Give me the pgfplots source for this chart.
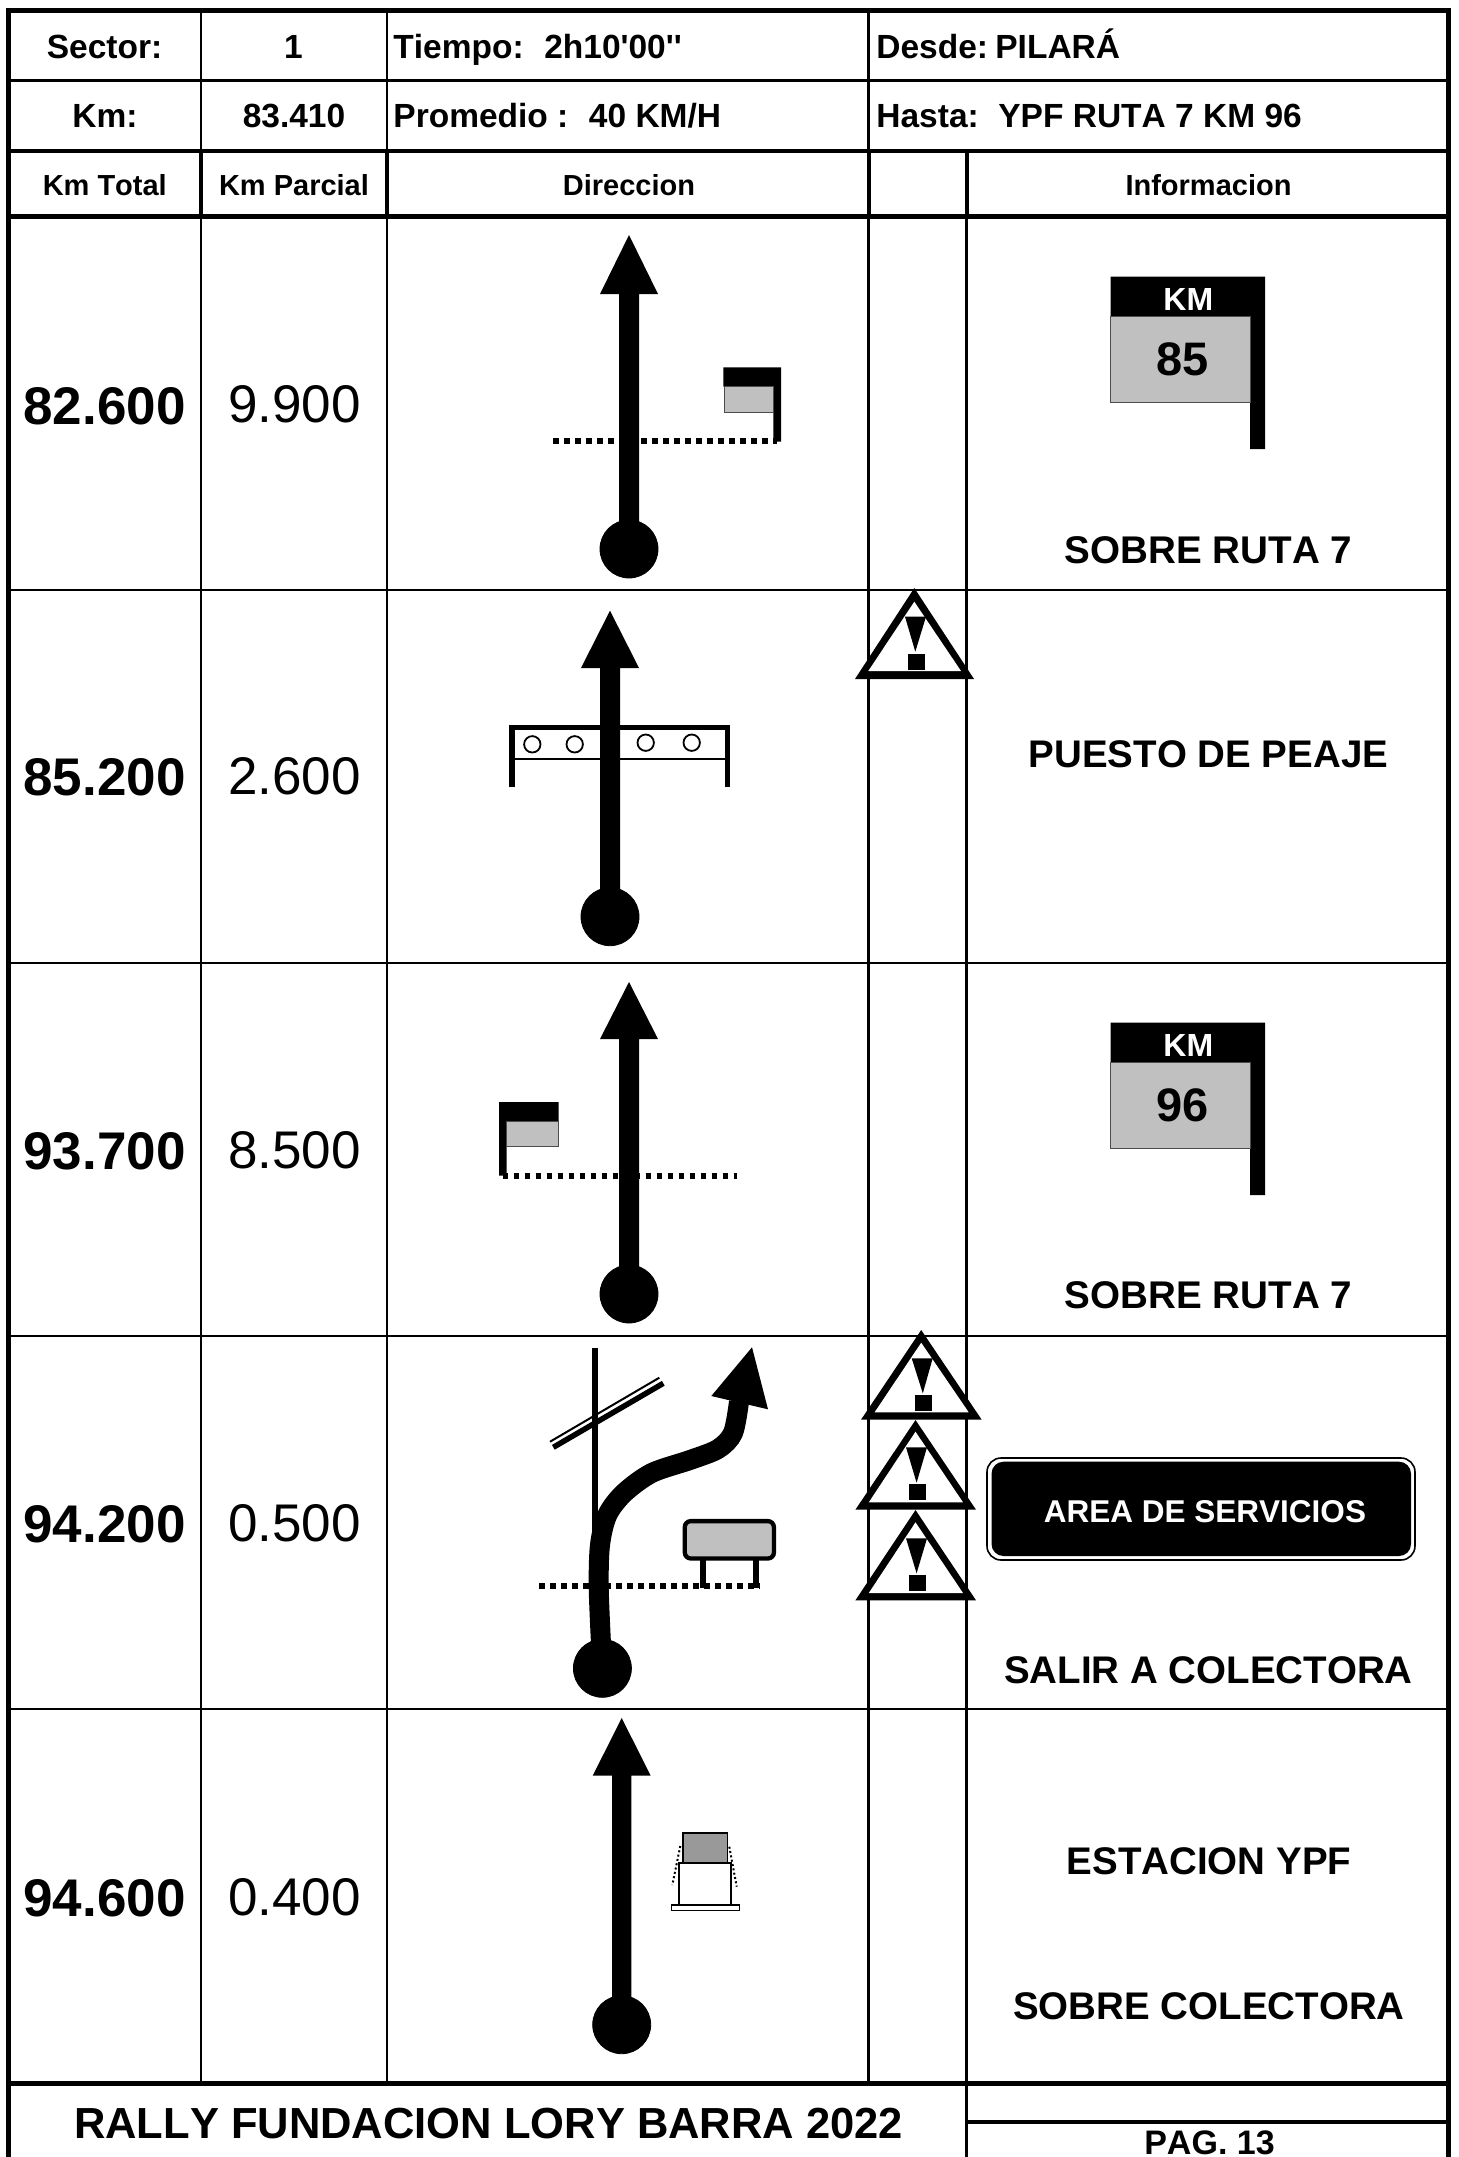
\documentclass[border=0pt]{standalone}
\usepackage{fontspec}
\usepackage{pgfplots}
\pgfplotsset{compat=1.18}
\newfontfamily\hv[Kerning=Off]{Liberation Sans}
\definecolor{sg}{HTML}{C0C0C0}
\definecolor{sd}{HTML}{999999}
% line: width in px, coordinates
\newcommand{\LN}[2]{\addplot[black,line width={#1*0.5pt}] coordinates {#2};}
\newcommand{\DT}[2]{\addplot[black,line width=3pt,dash pattern=on 2.75pt off 2.75pt] coordinates {(#1) (#2)};}
\newcommand{\FL}[2]{\addplot[fill=#1,draw=none] coordinates {#2} --cycle;}
\newcommand{\DOT}[2]{\addplot[only marks,mark=*,mark size=14.5pt,mark options={fill=black,draw=none}] coordinates {(#1,#2)};}
% text: x, y centre, size in px, weight, text
\newcommand{\CT}[5]{\node[anchor=center,inner sep=0pt,text height={#3*0.358pt},text depth=0pt,font=\hv\fontsize{\fpeval{#3*0.5}}{\fpeval{#3*0.6}}\selectfont #4] at (axis cs:#1,#2) {#5};}
\newcommand{\LT}[5]{\node[anchor=west,inner sep=0pt,text height={#3*0.358pt},text depth=0pt,font=\hv\fontsize{\fpeval{#3*0.5}}{\fpeval{#3*0.6}}\selectfont #4] at (axis cs:#1,#2) {#5};}
\begin{document}
\begin{tikzpicture}
\begin{axis}[hide axis,scale only axis,width=729pt,height=1078.5pt,
  xmin=0,xmax=1458,ymin=0,ymax=2157,y dir=reverse,clip=true]
\FL{white}{(0,0) (1458,0) (1458,2157) (0,2157)}
% grid
\LN{2.2}{(201,10) (201,2083)}
\LN{2.4}{(386.8,10) (386.8,2083)}
\LN{2.7}{(868.3,10) (868.3,2083)}
\LN{2.8}{(966.8,150) (966.8,2157)}
\LN{4}{(200.7,150) (200.7,216)}
\LN{4}{(387,150) (387,216)}
\LN{4}{(869,150) (869,216)}
\LN{4}{(967,150) (967,216)}
\LN{2.7}{(8,590) (1448,590)}
\LN{2.7}{(8,963) (1448,963)}
\LN{2.7}{(8,1336) (1448,1336)}
\LN{2.7}{(8,1709) (1448,1709)}
\LN{2.8}{(8,80.7) (1448,80.7)}
\LN{4}{(8,150.7) (1448,150.7)}
\LN{4.7}{(8,216.7) (1448,216.7)}
\LN{5}{(8,2083) (1448,2083)}
\LN{4}{(966.5,2122) (1448,2122)}
\LN{4.7}{(8.3,8) (8.3,2157)}
\LN{5}{(1448.5,8) (1448.5,2157)}
\LN{4.7}{(6,10.3) (1451,10.3)}
% header text
\CT{104.5}{46.3}{33.5}{\bfseries}{Sector:}
\CT{293.5}{46.3}{33.5}{\bfseries}{1}
\LT{393}{46.3}{33.5}{\bfseries}{Tiempo:\ \ \kern1pt 2h10'00''}
\LT{876}{46.3}{33.5}{\bfseries}{Desde:\kern-1pt\ PILARÁ}
\CT{105}{116}{33.5}{\bfseries}{Km:}
\CT{294}{116}{33.5}{\bfseries}{83.410}
\LT{393}{116}{33.5}{\bfseries}{Promedio :\ \ \kern1pt 40 KM/H}
\LT{876}{116}{33.5}{\bfseries}{Hasta:\ \ \kern0.5pt YPF RUTA 7 KM 96}
\CT{104.8}{185}{29}{\bfseries}{Km Total}
\CT{294}{185}{29}{\bfseries}{Km Parcial}
\CT{629}{185}{29}{\bfseries}{Direccion}
\CT{1208.5}{185}{29}{\bfseries}{Informacion}
% km columns
\CT{104.5}{406}{53}{\bfseries}{82.600}
\CT{104.5}{777}{53}{\bfseries}{85.200}
\CT{104.5}{1151}{53}{\bfseries}{93.700}
\CT{104.5}{1524}{53}{\bfseries}{94.200}
\CT{104.5}{1898}{53}{\bfseries}{94.600}
\CT{294.5}{404}{53}{}{9.900}
\CT{294.5}{776}{53}{}{2.600}
\CT{294.5}{1150}{53}{}{8.500}
\CT{294.5}{1523}{53}{}{0.500}
\CT{294.5}{1897}{53}{}{0.400}
% row 1
\DT{553,441.3}{777,441.3}
\FL{black}{(723.3,367.3) (781,367.3) (781,441.7) (773.3,441.7) (773.3,386.7) (723.3,386.7)}
\addplot[fill=sg,draw=black!70,line width=0.5pt] coordinates {(724,386.7) (773.3,386.7) (773.3,412.3) (724,412.3)} --cycle;
\FL{black}{(629,235) (658,294) (639,294) (639,549) (619,549) (619,294) (600,294)}
\DOT{629}{549}
\FL{black}{(1110.7,276.7) (1265,276.7) (1265,449) (1250,449) (1250,316) (1110.7,316)}
\addplot[fill=sg,draw=black!70,line width=0.5pt] coordinates {(1110.7,316) (1250,316) (1250,402.3) (1110.7,402.3)} --cycle;
\CT{1188.3}{299}{32}{\bfseries\color{white}}{KM}
\CT{1182.7}{358.3}{47}{\bfseries}{85}
\CT{1208.5}{549.5}{38.6}{\bfseries}{SOBRE RUTA 7}
% row 2
\LN{5}{(509.3,727.5) (730,727.5)}
\LN{5.3}{(512,725) (512,786.7)}
\LN{5.3}{(727.3,725) (727.3,786.7)}
\LN{2}{(512,759) (727,759)}
\addplot[only marks,mark=o,mark size=4.1pt,mark options={draw=black,line width=0.9pt}] coordinates {(532.3,744.3) (574.7,744.3) (645.7,742.7) (691.7,742.7)};
\FL{black}{(610,610.7) (639,668) (620,668) (620,916.7) (600,916.7) (600,668) (581,668)}
\DOT{610}{916.7}
\CT{1208.5}{754}{38.5}{\bfseries}{PUESTO DE PEAJE}
\FL{black}{(914.3,588) (974,679) (855,679)}
\FL{white}{(914.3,601.7) (961,671) (868.3,671)}
\FL{black}{(905,616.7) (926,616.7) (915.3,651.7)}
\FL{black}{(908,653.7) (925,653.7) (925,670) (908,670)}
% row 3
\DT{502.7,1175.7}{736.7,1175.7}
\FL{black}{(499,1102) (558.7,1102) (558.7,1121) (506.7,1121) (506.7,1175.7) (499,1175.7)}
\addplot[fill=sg,draw=black!70,line width=0.5pt] coordinates {(506.7,1121) (558.7,1121) (558.7,1146.7) (506.7,1146.7)} --cycle;
\FL{black}{(629,982) (658,1039) (639,1039) (639,1294) (619,1294) (619,1039) (600,1039)}
\DOT{629}{1294}
\FL{black}{(1110.7,1022.7) (1265,1022.7) (1265,1195) (1250,1195) (1250,1062) (1110.7,1062)}
\addplot[fill=sg,draw=black!70,line width=0.5pt] coordinates {(1110.7,1062) (1250,1062) (1250,1148.3) (1110.7,1148.3)} --cycle;
\CT{1188.3}{1045}{32}{\bfseries\color{white}}{KM}
\CT{1182.7}{1104.3}{47}{\bfseries}{96}
\CT{1208.5}{1294.5}{38.6}{\bfseries}{SOBRE RUTA 7}
% row 4
\DT{539.3,1585.7}{760,1585.7}
\LN{2}{(550,1441.7) (659.3,1377.7)}
\LN{5.5}{(553.3,1447.3) (663.3,1383.3)}
\LN{5.6}{(595,1348) (595,1533)}
\addplot[black,line width=10pt,smooth] coordinates {(600.9,1641.7) (598.7,1586.7) (600,1545) (607.3,1515) (624,1493) (651.7,1473) (690,1460) (718,1449) (733,1433) (739,1401.7)};
\FL{black}{(752,1347.3) (768,1409.3) (711.3,1396)}
\DOT{602.4}{1668.3}
\LN{5.7}{(702.8,1558) (702.8,1588.3)}
\LN{5.7}{(756,1558) (756,1588.3)}
\addplot[fill=sg,draw=black,line width=2.15pt,rounded corners=3pt] coordinates {(684.8,1521.1) (773.9,1521.1) (773.9,1558.5) (684.8,1558.5)} --cycle;
\FL{black}{(921.2,1330) (981.7,1419.7) (861,1419.7)}
\FL{white}{(921.2,1342.7) (968.7,1412.3) (874.6,1412.3)}
\FL{black}{(911.7,1358.3) (932.7,1358.3) (922.8,1393.3)}
\FL{black}{(914.7,1395) (932,1395) (932,1411) (914.7,1411)}
\FL{black}{(915.5,1420) (976,1509.7) (855.4,1509.7)}
\FL{white}{(915.5,1431.7) (963,1502.3) (868.8,1502.3)}
\FL{black}{(906,1447.3) (927,1447.3) (916.6,1482.7)}
\FL{black}{(909,1484.3) (926.2,1484.3) (926.2,1500.3) (909,1500.3)}
\FL{black}{(915.5,1510) (976,1600.3) (855.4,1600.3)}
\FL{white}{(915.5,1522.3) (963,1593) (868.8,1593)}
\FL{black}{(906,1538.3) (927,1538.3) (916.6,1573.3)}
\FL{black}{(909,1575.3) (926.2,1575.3) (926.2,1591.3) (909,1591.3)}
\addplot[fill=white,draw=black,line width=0.8pt,rounded corners=7pt] coordinates {(987,1458) (1415,1458) (1415,1560) (987,1560)} --cycle;
\addplot[fill=black,draw=none,rounded corners=6pt] coordinates {(991.5,1461.7) (1411,1461.7) (1411,1556) (991.5,1556)} --cycle;
\CT{1205}{1511}{31.5}{\bfseries\color{white}}{AREA DE SERVICIOS}
\CT{1208.5}{1669.3}{38.5}{\bfseries}{SALIR A COLECTORA}
% row 5
\FL{black}{(621.7,1718) (650.7,1775.7) (631.3,1775.7) (631.3,2024.7) (612,2024.7) (612,1775.7) (592.7,1775.7)}
\DOT{621.7}{2024.7}
\addplot[fill=sd,draw=black,line width=0.7pt] coordinates {(683,1833) (727.7,1833) (727.7,1863.3) (683,1863.3)} --cycle;
\addplot[fill=white,draw=black,line width=1pt] coordinates {(679.3,1863.3) (731,1863.3) (731,1905) (679.3,1905)} --cycle;
\addplot[fill=white,draw=black,line width=0.7pt] coordinates {(671.3,1905) (739.3,1905) (739.3,1910.7) (671.3,1910.7)} --cycle;
\addplot[black,line width=1pt,dash pattern=on 1pt off 1.2pt] coordinates {(680.3,1846) (672.3,1885)};
\addplot[black,line width=1pt,dash pattern=on 1pt off 1.2pt] coordinates {(729.3,1846.7) (736.7,1886.7)};
\CT{1209}{1861}{38.5}{\bfseries}{ESTACION YPF}
\CT{1209}{2005.5}{38.5}{\bfseries}{SOBRE COLECTORA}
% footer
\CT{488.6}{2122.4}{43.5}{\bfseries}{RALLY FUNDACION LORY BARRA 2022}
\CT{1209.5}{2142}{34}{\bfseries}{PAG. 13}
\end{axis}
\end{tikzpicture}
\end{document}
